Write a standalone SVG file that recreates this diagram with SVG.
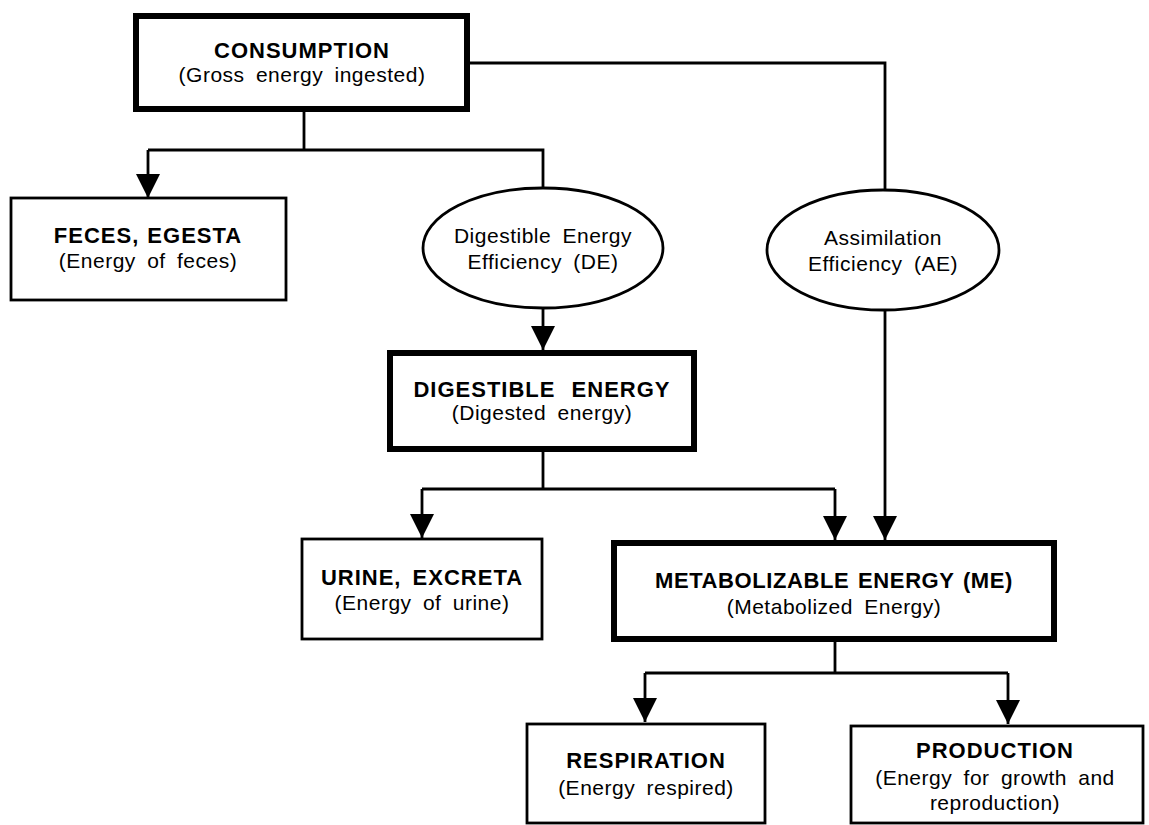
<svg xmlns="http://www.w3.org/2000/svg" width="1149" height="825" viewBox="0 0 1149 825">
<style>
.thick{fill:#fff;stroke:#000;stroke-width:6}
.thin{fill:#fff;stroke:#000;stroke-width:2.8}
.ell{fill:#fff;stroke:#000;stroke-width:2.8}
.conn{fill:none;stroke:#000;stroke-width:2.8}
.t{font-family:"Liberation Sans",Arial,sans-serif;font-weight:bold;font-size:22px;letter-spacing:1px;word-spacing:4px;text-anchor:middle;fill:#000}
.s{font-family:"Liberation Sans",Arial,sans-serif;font-size:21px;letter-spacing:0.5px;word-spacing:5px;text-anchor:middle;fill:#000}
</style>
<defs>
<marker id="ah" markerUnits="userSpaceOnUse" markerWidth="24" markerHeight="24" viewBox="0 0 22 22" refX="22" refY="11" orient="auto">
<path d="M0,0 L22,11 L0,22 z" fill="#000"/>
</marker>
</defs>
<rect width="1149" height="825" fill="#fff"/>
<g id="connectors">
<path class="conn" d="M304,112 V150 M148,150 H543 V188"/>
<path class="conn" d="M148,150 V198" marker-end="url(#ah)"/>
<path class="conn" d="M470,63 H885 V190"/>
<path class="conn" d="M543,308 V350" marker-end="url(#ah)"/>
<path class="conn" d="M543,452 V489 M422,489 H835"/>
<path class="conn" d="M422,489 V538" marker-end="url(#ah)"/>
<path class="conn" d="M835,489 V540" marker-end="url(#ah)"/>
<path class="conn" d="M885,310 V540" marker-end="url(#ah)"/>
<path class="conn" d="M835,642 V673 M645,673 H1008"/>
<path class="conn" d="M645,673 V722" marker-end="url(#ah)"/>
<path class="conn" d="M1008,673 V724" marker-end="url(#ah)"/>
</g>
<g id="consumption">
<rect class="thick" x="136" y="16" width="331" height="93"/>
<text class="t" x="302" y="58">CONSUMPTION</text>
<text class="s" x="302" y="82">(Gross energy ingested)</text>
</g>
<g id="feces">
<rect class="thin" x="11" y="198" width="275" height="102"/>
<text class="t" x="148" y="243" style="word-spacing:1px">FECES, EGESTA</text>
<text class="s" x="148" y="268">(Energy of feces)</text>
</g>
<g id="de-efficiency">
<ellipse class="ell" cx="543" cy="248" rx="120" ry="60"/>
<text class="s" x="543" y="243">Digestible Energy</text>
<text class="s" x="543" y="269">Efficiency  (DE)</text>
</g>
<g id="ae-efficiency">
<ellipse class="ell" cx="883" cy="250" rx="116" ry="60"/>
<text class="s" x="883" y="245">Assimilation</text>
<text class="s" x="883" y="271">Efficiency  (AE)</text>
</g>
<g id="digestible-energy">
<rect class="thick" x="390" y="353" width="304" height="96"/>
<text class="t" x="542" y="397" style="word-spacing:9px">DIGESTIBLE ENERGY</text>
<text class="s" x="542" y="420">(Digested energy)</text>
</g>
<g id="urine">
<rect class="thin" x="302" y="539" width="240" height="100"/>
<text class="t" x="422" y="585">URINE, EXCRETA</text>
<text class="s" x="422" y="610">(Energy of urine)</text>
</g>
<g id="metabolizable-energy">
<rect class="thick" x="614" y="543" width="440" height="96"/>
<text class="t" x="834" y="588" style="letter-spacing:0.6px;word-spacing:2px">METABOLIZABLE ENERGY (ME)</text>
<text class="s" x="834" y="614">(Metabolized Energy)</text>
</g>
<g id="respiration">
<rect class="thin" x="527" y="724" width="238" height="99"/>
<text class="t" x="646" y="768">RESPIRATION</text>
<text class="s" x="646" y="795">(Energy  respired)</text>
</g>
<g id="production">
<rect class="thin" x="851" y="726" width="292" height="97"/>
<text class="t" x="995" y="758">PRODUCTION</text>
<text class="s" x="995" y="785">(Energy for growth and</text>
<text class="s" x="995" y="810">reproduction)</text>
</g>
</svg>
